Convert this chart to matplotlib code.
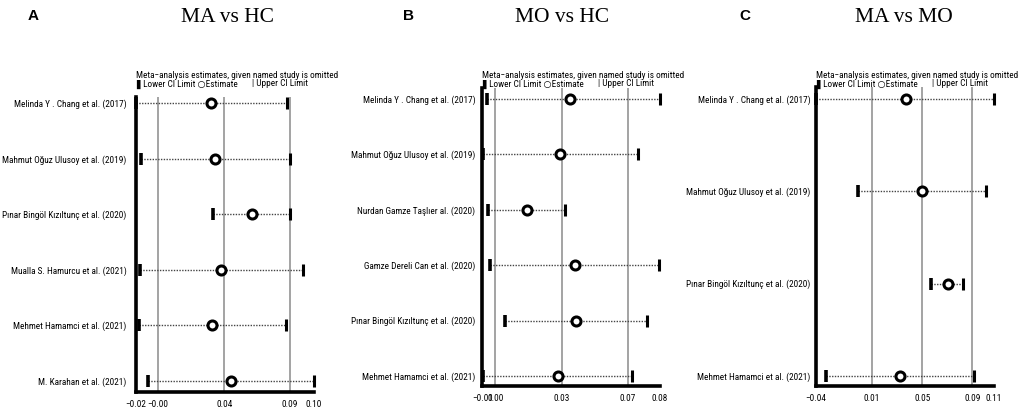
import matplotlib.pyplot as plt
from matplotlib import font_manager as fm

W, H = 1021, 413

# ---- data ----
studies_a = ["Melinda Y . Chang et al. (2017)", "Mahmut Oğuz Ulusoy et al. (2019)",
             "Pınar Bingöl Kızıltunç et al. (2020)", "Mualla S. Hamurcu et al. (2021)",
             "Mehmet Hamamci et al. (2021)", "M. Karahan et al. (2021)"]
est_a = [0.0328, 0.0355, 0.0615, 0.0395, 0.0337, 0.0465]
lo_a = [-0.0195, -0.0160, 0.0344, -0.0167, -0.0172, -0.0113]
hi_a = [0.0857, 0.0878, 0.0878, 0.0966, 0.0850, 0.1045]
overall_a = [-0.0042, 0.0420, 0.0878]
xlim_a = (-0.0195, 0.1045)
ticklabels_a = ["\u22120.02", "\u22120.00", "0.04", "0.09", "0.10"]

studies_b = ["Melinda Y . Chang et al. (2017)", "Mahmut Oğuz Ulusoy et al. (2019)",
             "Nurdan Gamze Taşlıer al. (2020)", "Gamze Dereli Can et al. (2020)",
             "Pınar Bingöl Kızıltunç et al. (2020)", "Mehmet Hamamci et al. (2021)"]
est_b = [0.0374, 0.0324, 0.0157, 0.0399, 0.0405, 0.0312]
lo_b = [-0.0043, -0.0060, -0.0035, -0.0027, 0.0050, -0.0060]
hi_b = [0.0824, 0.0717, 0.0350, 0.0820, 0.0760, 0.0685]
overall_b = [0.0000, 0.0334, 0.0664]
xlim_b = (-0.0065, 0.0825)
ticklabels_b = ["\u22120.01", "0.00", "0.03", "0.07", "0.08"]

studies_c = ["Melinda Y . Chang et al. (2017)", "Mahmut Oğuz Ulusoy et al. (2019)",
             "Pınar Bingöl Kızıltunç et al. (2020)", "Mehmet Hamamci et al. (2021)"]
est_c = [0.0356, 0.0495, 0.0704, 0.0306]
lo_c = [-0.0394, -0.0041, 0.0570, -0.0311]
hi_c = [0.1092, 0.1029, 0.0834, 0.0925]
overall_c = [0.0070, 0.0492, 0.0912]
xlim_c = (-0.0394, 0.1092)
ticklabels_c = ["\u22120.04", "0.01", "0.05", "0.09", "0.11"]

# pick a condensed face if one is installed, else a plain sans
have = {f.name for f in fm.fontManager.ttflist}
candidates = ["Roboto Condensed", "PT Sans Narrow", "Liberation Sans Narrow", "Archivo Narrow",
              "Open Sans Condensed", "Fira Sans Condensed", "IBM Plex Sans Condensed",
              "Encode Sans Condensed", "Barlow Semi Condensed", "Asap Condensed",
              "Pragati Narrow", "Roboto", "Liberation Sans"]
face = next((c for c in candidates if c in have), "DejaVu Sans")
narrow = [face, "DejaVu Sans"]

fig = plt.figure(figsize=(W / 100, H / 100), dpi=100)
renderer = fig.canvas.get_renderer()


def fit_size(s, target_px, base=10):
    t = fig.text(0, 0, s, family=narrow, fontsize=base)
    w = t.get_window_extent(renderer).width
    t.remove()
    return base * target_px / w


# size the small text so that it takes about the width it has in the reference
fs = min(fit_size("Melinda Y . Chang et al. (2017)", 119),
         fit_size("Meta\u2212analysis estimates, given named study is omitted", 201))
fs = min(fs, 9.5)


def px_axes(x0, x1, y0, y1):
    return fig.add_axes([x0 / W, 1 - y1 / H, (x1 - x0) / W, (y1 - y0) / H])


def panel(box, studies, est, lo, hi, overall, xlim, ticklabels, ypad,
          letter, title, letter_x, title_x, lab_pad):
    ax = px_axes(*box)
    n = len(studies)
    ys = list(range(1, n + 1))
    for g in overall:
        ax.axvline(g, color="#8a8a8a", lw=1.1, zorder=1)
    for y, e, l, h in zip(ys, est, lo, hi):
        ax.plot([l, h], [y, y], ls=(0, (1, 1)), color="#444444", lw=1.0, zorder=2)
        ax.plot([l], [y], marker="|", ms=8, mew=2.6, color="black", zorder=3, clip_on=False)
        ax.plot([h], [y], marker="|", ms=8, mew=2.2, color="black", zorder=3, clip_on=False)
        ax.plot([e], [y], marker="o", ms=6.5, mew=2.2, mfc="white", mec="black", zorder=4)
    ax.set_xlim(*xlim)
    ax.set_ylim(n + ypad[1], 1 - ypad[0])
    ax.set_yticks(ys)
    ax.set_yticklabels(studies, family=narrow, fontsize=fs)
    ticks = [xlim[0]] + overall + [xlim[1]]
    ax.set_xticks(ticks)
    ax.set_xticklabels(ticklabels, family=narrow, fontsize=fs)
    ax.tick_params(axis="x", length=0, pad=6)
    ax.tick_params(axis="y", length=0, pad=lab_pad)
    for s in ["top", "right"]:
        ax.spines[s].set_visible(False)
    ax.spines["left"].set_linewidth(2.6)
    ax.spines["bottom"].set_linewidth(2.6)
    x0 = box[0]
    fig.text(x0 / W, 1 - 75 / H, "Meta\u2212analysis estimates, given named study is omitted",
             family=narrow, fontsize=fs, va="center", ha="left")
    fig.text(x0 / W, 1 - 84 / H, "\u258cLower CI Limit \u25cbEstimate",
             family=narrow, fontsize=fs, va="center", ha="left")
    fig.text((x0 + 116) / W, 1 - 84 / H, "| Upper CI Limit",
             family=narrow, fontsize=fs, va="center", ha="left")
    fig.text(letter_x / W, 1 - 16 / H, letter, fontsize=11, fontweight="bold",
             family="Liberation Sans", va="center", ha="center")
    fig.text(title_x / W, 1 - 17 / H, title, fontsize=15.5, family="Liberation Serif",
             va="center", ha="center")
    return ax


panel((136, 314, 97, 392), studies_a, est_a, lo_a, hi_a, overall_a, xlim_a, ticklabels_a,
      (0.11, 0.2), "A", "MA vs HC", 33, 227, 7)
panel((482.3, 660, 88, 386), studies_b, est_b, lo_b, hi_b, overall_b, xlim_b, ticklabels_b,
      (0.2, 0.18), "B", "MO vs HC", 408, 562, 5)
panel((816, 994, 87, 386), studies_c, est_c, lo_c, hi_c, overall_c, xlim_c, ticklabels_c,
      (0.13, 0.11), "C", "MA vs MO", 745, 904, 4)

fig.savefig("out.png", dpi=100)
